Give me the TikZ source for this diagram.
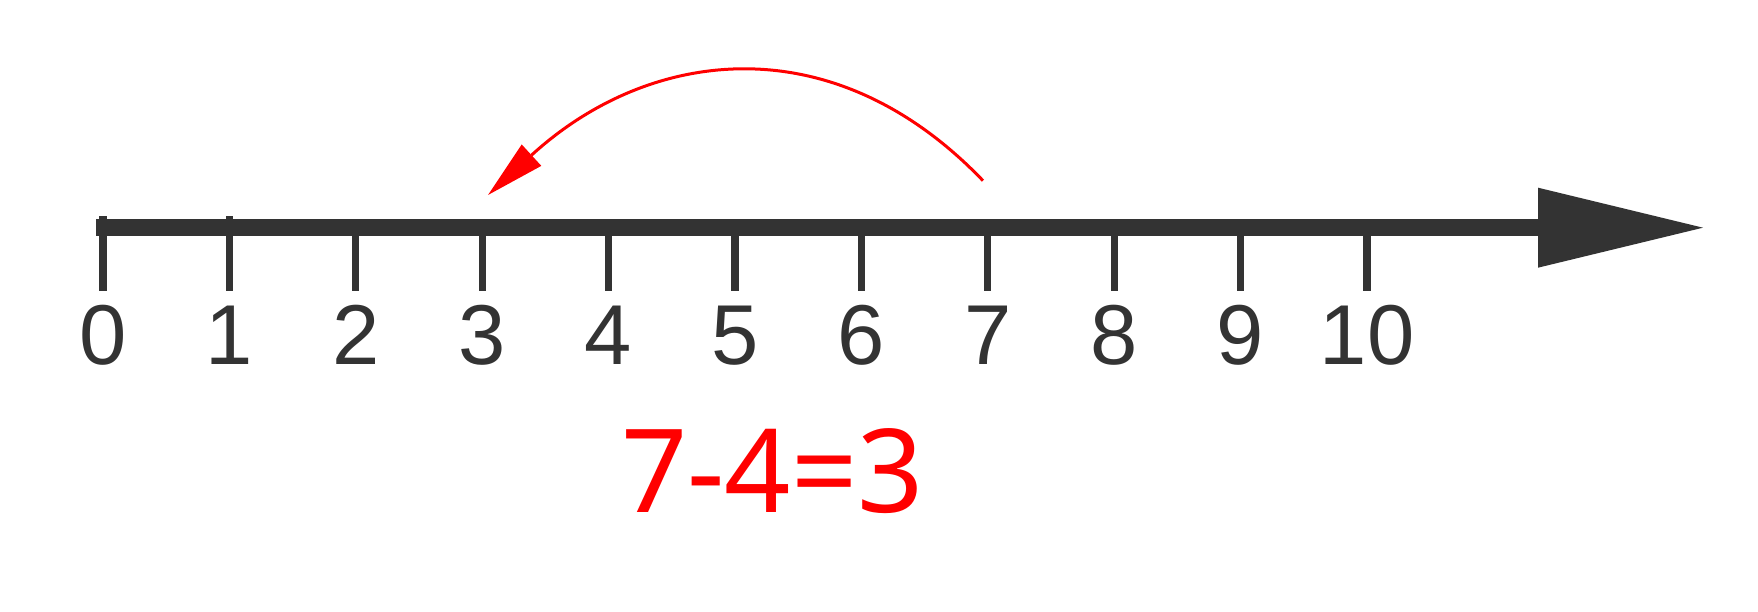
\documentclass[tikz,border=0pt]{standalone}
\usepackage{fontspec}
\setmainfont{Liberation Sans}
\newfontfamily\eqfont{Noto Sans}
\usetikzlibrary{arrows.meta,calc}
\definecolor{axcol}{HTML}{333333}
\begin{document}
\begin{tikzpicture}[x=1pt,y=1pt,
  axis/.style={draw=axcol, line width=17pt},
  axhead/.style={fill=axcol},
  tickmark/.style={draw=axcol, line width=7.3pt},
  numlab/.style={text=axcol, font=\fontsize{85}{85}\selectfont, inner sep=0pt, anchor=base},
  jump/.style={draw=red, line width=3pt, -{Triangle[length=59pt,width=29pt,line width=0pt]}},
  eqlab/.style={text=red, font=\eqfont\fontsize{116}{116}\selectfont, inner sep=0pt, anchor=base}]
\useasboundingbox (0,0) rectangle (1758,612);
% axis
\coordinate (axL) at (96,384.3);
\coordinate (axB) at (1538,384.3);
\coordinate (axT) at (1703,384.3);
\draw[axis] (axL) -- (axB);
\fill[axhead] ($(axB)+(0,40)$) -- (axT) -- ($(axB)+(0,-40)$) -- cycle;
% ticks and labels
\foreach \k in {0,...,10}{
  \coordinate (t\k) at ({103+126.4*\k},384.3);
  \coordinate (b\k) at ({103+126.4*\k},321.3);
  \draw[tickmark] (t\k) -- (b\k);
  \node[numlab] (n\k) at ({103+126.4*\k},247) {\k};
}
\draw[tickmark] (t0) -- ++(0,12);
\draw[tickmark] (t1) -- ++(0,12);
% jump arc
\coordinate (a7) at (983,431.3);
\coordinate (a3) at (488,417);
\draw[jump] (a7) .. controls (832.6,588.3) and (648.9,564.2) .. (a3);
% equation
\node[eqlab] (eq) at (772.5,99) {7-4=3};
\end{tikzpicture}
\end{document}
